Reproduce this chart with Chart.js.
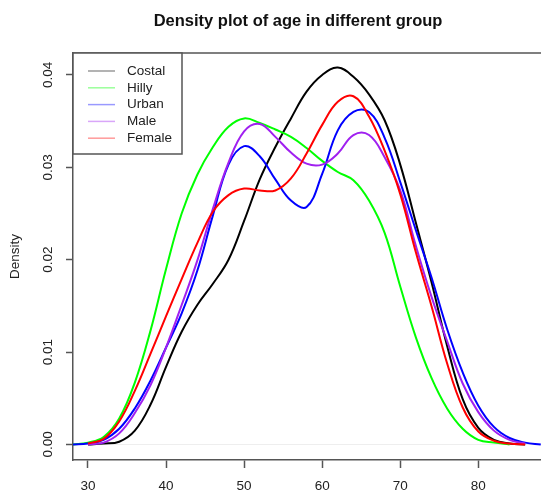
<!DOCTYPE html>
<html>
<head>
<meta charset="utf-8">
<title>Density plot of age in different group</title>
<script src="https://cdn.jsdelivr.net/npm/chart.js@4.4.0/dist/chart.umd.min.js"></script>
<style>
  html, body { margin: 0; padding: 0; background: #fff; }
  #wrap { width: 541px; height: 493px; }
</style>
</head>
<body>
<div id="wrap"><canvas id="chart" width="541" height="493"></canvas></div>
<script>
// age grid (x) shared by every density curve
const ages = [28, 30, 32, 34, 36, 38, 40, 42, 44, 46, 48, 50, 52, 54, 56, 58,
  60, 62, 64, 66, 68, 70, 72, 74, 76, 78, 80, 82, 84, 86, 88];

const costal = [null, 0.0000, 0.0001, 0.0003, 0.0015, 0.0043, 0.0084, 0.0122, 0.0151, 0.0174,
  0.0200, 0.0242, 0.0287, 0.0322, 0.0353, 0.0382, 0.0400, 0.0408, 0.0398, 0.0379,
  0.0351, 0.0303, 0.0240, 0.0176, 0.0107, 0.0049, 0.0018, 0.0005, 0.0001, 0.0000, null];
const hilly = [0.0000, 0.0002, 0.0008, 0.0028, 0.0067, 0.0123, 0.0190, 0.0250, 0.0292, 0.0322,
  0.0344, 0.0353, 0.0348, 0.0341, 0.0333, 0.0321, 0.0307, 0.0295, 0.0286, 0.0264,
  0.0229, 0.0171, 0.0116, 0.0072, 0.0039, 0.0017, 0.0005, 0.0002, 0.0000, null, null];
const urban = [0.0000, 0.0001, 0.0005, 0.0017, 0.0039, 0.0069, 0.0105, 0.0142, 0.0188, 0.0248,
  0.0303, 0.0323, 0.0312, 0.0287, 0.0264, 0.0257, 0.0293, 0.0340, 0.0360, 0.0360,
  0.0332, 0.0284, 0.0232, 0.0181, 0.0125, 0.0078, 0.0042, 0.0019, 0.0007, 0.0002, 0.0000];
const male = [null, 0.0000, 0.0002, 0.0012, 0.0034, 0.0064, 0.0105, 0.0151, 0.0199, 0.0255,
  0.0305, 0.0339, 0.0347, 0.0333, 0.0316, 0.0304, 0.0303, 0.0315, 0.0335, 0.0335,
  0.0311, 0.0275, 0.0215, 0.0160, 0.0112, 0.0066, 0.0035, 0.0015, 0.0005, 0.0001, null];
const female = [null, 0.0001, 0.0006, 0.0025, 0.0058, 0.0098, 0.0139, 0.0179, 0.0218, 0.0252,
  0.0270, 0.0277, 0.0275, 0.0275, 0.0288, 0.0315, 0.0346, 0.0371, 0.0377, 0.0355,
  0.0318, 0.0271, 0.0208, 0.0150, 0.0088, 0.0040, 0.0014, 0.0004, 0.0001, 0.0000, null];

const groupNames = ["Costal", "Hilly", "Urban", "Male", "Female"];
const groupColors = ["#000000", "#00ff00", "#0000ff", "#a020f0", "#ff0000"];
const groupValues = [costal, hilly, urban, male, female];

const xTicks = [30, 40, 50, 60, 70, 80];
const yTicks = [0, 0.01, 0.02, 0.03, 0.04];

const FONT = "'Liberation Sans', Arial, Helvetica, sans-serif";
const AXIS_COLOR = "#555";

const datasets = groupNames.map((name, i) => ({
  label: name,
  data: ages.map((a, j) => ({ x: a, y: groupValues[i][j] })),
  borderColor: groupColors[i],
  borderWidth: 2,
  pointRadius: 0,
  fill: false,
  tension: 0.4,
  spanGaps: false,
  order: groupNames.length - i,
}));

// R style extras: title, top of box, legend in the corner
const rDecor = {
  id: "rDecor",
  afterDraw(chart) {
    const { ctx, chartArea } = chart;
    ctx.save();

    ctx.strokeStyle = AXIS_COLOR;
    ctx.lineWidth = 1.5;
    ctx.beginPath();
    ctx.moveTo(chartArea.left, chartArea.top);
    ctx.lineTo(chartArea.right, chartArea.top);
    ctx.stroke();

    ctx.fillStyle = "#111";
    ctx.font = "bold 16.5px " + FONT;
    ctx.textAlign = "center";
    ctx.textBaseline = "middle";
    ctx.fillText("Density plot of age in different group", 298, 21);

    // legend box
    const bx = chartArea.left, by = chartArea.top, bw = 109, bh = 101;
    ctx.fillStyle = "#fff";
    ctx.fillRect(bx, by, bw, bh);
    ctx.strokeStyle = AXIS_COLOR;
    ctx.lineWidth = 1.5;
    ctx.strokeRect(bx, by, bw, bh);

    ctx.font = "13.5px " + FONT;
    ctx.textAlign = "left";
    ctx.textBaseline = "middle";
    chart.data.datasets.forEach((ds, i) => {
      const y = by + 18 + i * 16.8;
      ctx.globalAlpha = 0.4;
      ctx.strokeStyle = ds.borderColor;
      ctx.lineWidth = 1.5;
      ctx.beginPath();
      ctx.moveTo(bx + 15, y);
      ctx.lineTo(bx + 42, y);
      ctx.stroke();
      ctx.globalAlpha = 1;
      ctx.fillStyle = "#222";
      ctx.fillText(ds.label, bx + 54, y);
    });

    ctx.restore();
  },
};

new Chart(document.getElementById("chart"), {
  type: "line",
  data: { datasets },
  plugins: [rDecor],
  options: {
    responsive: false,
    animation: false,
    devicePixelRatio: 1,
    layout: { padding: { top: 53, left: 0, right: 0, bottom: 0 } },
    plugins: {
      legend: { display: false },
      title: { display: false },
      tooltip: { enabled: false },
    },
    scales: {
      x: {
        type: "linear",
        min: 28.08,
        max: 88.03,
        afterBuildTicks: (s) => { s.ticks = xTicks.map((v) => ({ value: v })); },
        afterFit: (s) => { s.height = 33; },
        grid: { drawOnChartArea: false, tickLength: 8, tickColor: AXIS_COLOR, tickWidth: 1.5 },
        border: { color: AXIS_COLOR, width: 1.5 },
        ticks: {
          font: { family: FONT, size: 13.5 },
          color: "#222",
          padding: 10,
          maxRotation: 0,
          autoSkip: false,
        },
      },
      y: {
        type: "linear",
        min: -0.00168,
        max: 0.04238,
        afterBuildTicks: (s) => { s.ticks = yTicks.map((v) => ({ value: v })); },
        afterFit: (s) => { s.width = 73; },
        grid: {
          color: (c) => (c.tick && c.tick.value === 0 ? "#eeeeee" : "rgba(0,0,0,0)"),
          lineWidth: 1,
          tickLength: 7,
          tickColor: AXIS_COLOR,
          tickWidth: 1.5,
        },
        border: { color: AXIS_COLOR, width: 1.5 },
        ticks: {
          font: { family: FONT, size: 13.5 },
          color: "#222",
          minRotation: 90,
          maxRotation: 90,
          crossAlign: "center",
          padding: 5,
          callback: (v) => v.toFixed(2),
        },
        title: {
          display: true,
          text: "Density",
          color: "#222",
          font: { family: FONT, size: 13.5 },
          padding: { top: 7, bottom: 0 },
        },
      },
    },
  },
});
</script>
</body>
</html>
